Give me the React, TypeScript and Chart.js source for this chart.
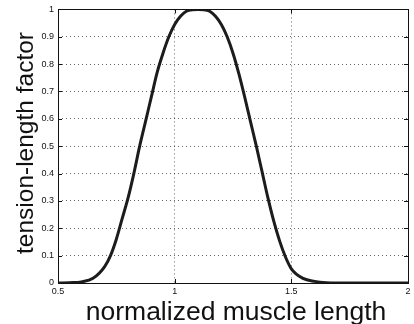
import React, { useEffect, useRef } from "react";
import { Chart, registerables } from "chart.js";

Chart.register(...registerables);

// normalized muscle length (x) and tension-length factor (y)
const muscleLength = [
  0.5, 0.55, 0.6, 0.65, 0.7, 0.725, 0.75, 0.775, 0.8, 0.825, 0.85, 0.875, 0.9,
  0.925, 0.95, 0.975, 1.0, 1.025, 1.05, 1.075, 1.1, 1.125, 1.15, 1.175, 1.2,
  1.225, 1.25, 1.275, 1.3, 1.325, 1.35, 1.375, 1.4, 1.425, 1.45, 1.475, 1.5,
  1.55, 1.6, 1.65, 1.7, 2.0,
];
const tensionFactor = [
  0, 0.001, 0.004, 0.017, 0.06, 0.1, 0.16, 0.235, 0.31, 0.4, 0.5, 0.59, 0.68,
  0.77, 0.84, 0.9, 0.945, 0.975, 0.993, 0.999, 1.0, 0.999, 0.993, 0.975, 0.945,
  0.9, 0.84, 0.765, 0.68, 0.59, 0.5, 0.405, 0.31, 0.225, 0.153, 0.095, 0.052,
  0.017, 0.006, 0.001, 0, 0,
];
const xTicks = [0.5, 1, 1.5, 2];
const xTickLabels = ["0.5", "1", "1.5", "2"];
const yTicks = [0, 0.1, 0.2, 0.3, 0.4, 0.5, 0.6, 0.7, 0.8, 0.9, 1];
const yTickLabels = ["0", "0.1", "0.2", "0.3", "0.4", "0.5", "0.6", "0.7", "0.8", "0.9", "1"];
const xTitle = "normalized muscle length";
const yTitle = "tension-length factor";

const FONT = "'Liberation Sans', Arial, Helvetica, sans-serif";

const boxPlugin = {
  id: "matlabBox",
  afterDraw(chart: any) {
    const { ctx, chartArea } = chart;
    const { left, right, top, bottom } = chartArea;
    const xs = chart.scales.x;
    const ys = chart.scales.y;
    ctx.save();
    ctx.strokeStyle = "#111";
    ctx.lineWidth = 1;
    ctx.strokeRect(Math.round(left) + 0.5, Math.round(top) + 0.5, Math.round(right - left), Math.round(bottom - top));
    const tl = 4;
    ctx.beginPath();
    xTicks.forEach((v) => {
      const px = Math.round(xs.getPixelForValue(v)) + 0.5;
      ctx.moveTo(px, bottom);
      ctx.lineTo(px, bottom - tl);
      ctx.moveTo(px, top);
      ctx.lineTo(px, top + tl);
    });
    yTicks.forEach((v) => {
      const py = Math.round(ys.getPixelForValue(v)) + 0.5;
      ctx.moveTo(left, py);
      ctx.lineTo(left + tl, py);
      ctx.moveTo(right, py);
      ctx.lineTo(right - tl, py);
    });
    ctx.stroke();

    ctx.fillStyle = "#111";
    ctx.textAlign = "center";
    ctx.textBaseline = "alphabetic";
    ctx.font = `26.5px ${FONT}`;
    ctx.fillText(xTitle, 236, 320);
    ctx.save();
    ctx.translate(32.5, 143);
    ctx.rotate(-Math.PI / 2);
    ctx.font = `24.5px ${FONT}`;
    ctx.fillText(yTitle, 0, 0);
    ctx.restore();
    ctx.restore();
  },
};

export default function App() {
  const ref = useRef<HTMLCanvasElement | null>(null);
  useEffect(() => {
    if (!ref.current) return;
    const chart = new Chart(ref.current, {
      type: "line",
      data: {
        datasets: [
          {
            data: muscleLength.map((x, i) => ({ x, y: tensionFactor[i] })),
            borderColor: "#1e1b1c",
            borderWidth: 3,
            pointRadius: 0,
            cubicInterpolationMode: "monotone",
            fill: false,
          },
        ],
      },
      options: {
        animation: false,
        responsive: false,
        maintainAspectRatio: false,
        layout: { padding: { top: 9, right: 6, left: 0, bottom: 0 } },
        plugins: { legend: { display: false }, tooltip: { enabled: false } },
        scales: {
          x: {
            type: "linear",
            min: 0.5,
            max: 2,
            afterFit: (s: any) => {
              s.height = 41;
            },
            afterBuildTicks: (s: any) => {
              s.ticks = xTicks.map((v) => ({ value: v }));
            },
            ticks: {
              autoSkip: false,
              maxRotation: 0,
              padding: 3,
              color: "#111",
              font: { family: FONT, size: 9 },
              callback: (v: any) => xTickLabels[xTicks.indexOf(Number(v))] ?? "",
            },
            grid: { color: "rgba(0,0,0,0.6)", lineWidth: 1, drawTicks: false },
            border: { display: false, dash: [1, 3] },
          },
          y: {
            type: "linear",
            min: 0,
            max: 1,
            afterFit: (s: any) => {
              s.width = 58;
            },
            afterBuildTicks: (s: any) => {
              s.ticks = yTicks.map((v) => ({ value: v }));
            },
            ticks: {
              autoSkip: false,
              padding: 4,
              color: "#111",
              font: { family: FONT, size: 9 },
              callback: (v: any) => {
                const i = yTicks.findIndex((t) => Math.abs(t - Number(v)) < 1e-6);
                return i >= 0 ? yTickLabels[i] : "";
              },
            },
            grid: { color: "rgba(0,0,0,0.6)", lineWidth: 1, drawTicks: false },
            border: { display: false, dash: [1, 3] },
          },
        },
      },
      plugins: [boxPlugin],
    } as any);
    return () => chart.destroy();
  }, []);
  return (
    <div style={{ position: "fixed", left: 0, top: 0, width: 414, height: 324, background: "#fff" }}>
      <canvas ref={ref} width={414} height={324} style={{ width: 414, height: 324 }} />
    </div>
  );
}
